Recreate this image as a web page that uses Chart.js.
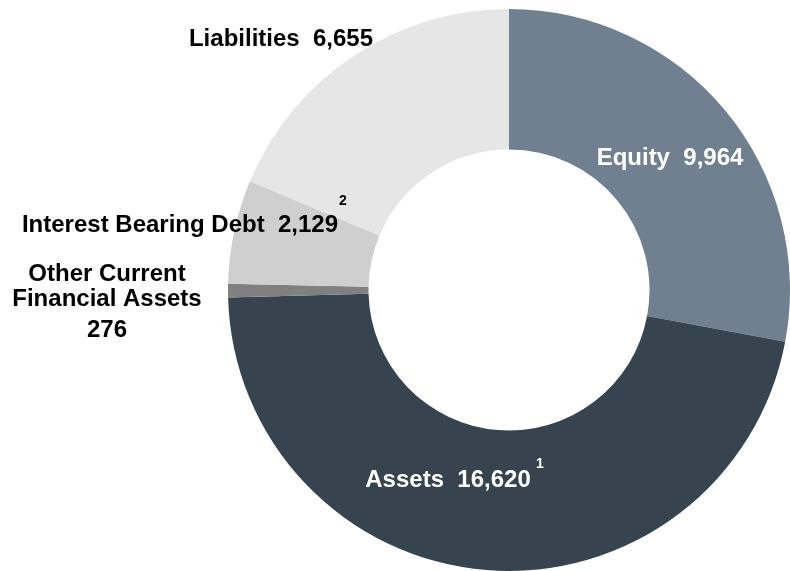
<!DOCTYPE html>
<html>
<head>
<meta charset="utf-8">
<script src="https://cdn.jsdelivr.net/npm/chart.js@4/dist/chart.umd.min.js"></script>
<style>
  html, body { margin: 0; padding: 0; background: #ffffff; }
  canvas { display: block; }
</style>
</head>
<body>
<canvas id="myChart" width="790" height="571"></canvas>
<script>
/* donnees du graphique */
const categories = ['Equity', 'Assets', 'Other Current Financial Assets', 'Interest Bearing Debt', 'Liabilities'];
const values = [9964, 16620, 276, 2129, 6655];
const valueLabels = ['9,964', '16,620', '276', '2,129', '6,655'];
const colors = ['#708090', '#37444f', '#808080', '#d0cfd0', '#e6e6e6'];

/* position des etiquettes (texte seulement) */
const labelStyle = [
    { lines: ['Equity  9,964'], x: 670, y: [165], color: '#ffffff' },
    { lines: ['Assets  16,620'], x: 448, y: [487], color: '#ffffff', sup: '1', sx: 540, sy: 468 },
    { lines: ['Other Current', 'Financial Assets', '276'], x: 107, y: [281, 306, 337], color: '#000000' },
    { lines: ['Interest Bearing Debt  2,129'], x: 180, y: [232], color: '#000000', sup: '2', sx: 343, sy: 205 },
    { lines: ['Liabilities  6,655'], x: 281, y: [46], color: '#000000' }
];

const labelPlugin = {
    id: 'sliceLabels',
    afterDraw(chart) {
        const ctx = chart.ctx;
        ctx.save();
        ctx.textAlign = 'center';
        ctx.textBaseline = 'alphabetic';
        labelStyle.forEach(function(l) {
            ctx.fillStyle = l.color;
            ctx.font = 'bold 24px "Liberation Sans", Arial, sans-serif';
            l.lines.forEach(function(t, i) {
                ctx.fillText(t, l.x, l.y[i]);
            });
            if (l.sup) {
                ctx.font = 'bold 14px "Liberation Sans", Arial, sans-serif';
                ctx.fillText(l.sup, l.sx, l.sy);
            }
        });
        ctx.restore();
    }
};

const ctx = document.getElementById('myChart').getContext('2d');
const myChart = new Chart(ctx, {
    type: 'doughnut',
    data: {
        labels: categories,
        datasets: [{
            data: values,
            backgroundColor: colors,
            borderWidth: 0
        }]
    },
    options: {
        responsive: false,
        animation: false,
        cutout: '50%',
        layout: {
            padding: { left: 228, top: 9, right: 0, bottom: 0 }
        },
        plugins: {
            legend: { display: false },
            tooltip: { enabled: false }
        }
    },
    plugins: [labelPlugin]
});
</script>
</body>
</html>
